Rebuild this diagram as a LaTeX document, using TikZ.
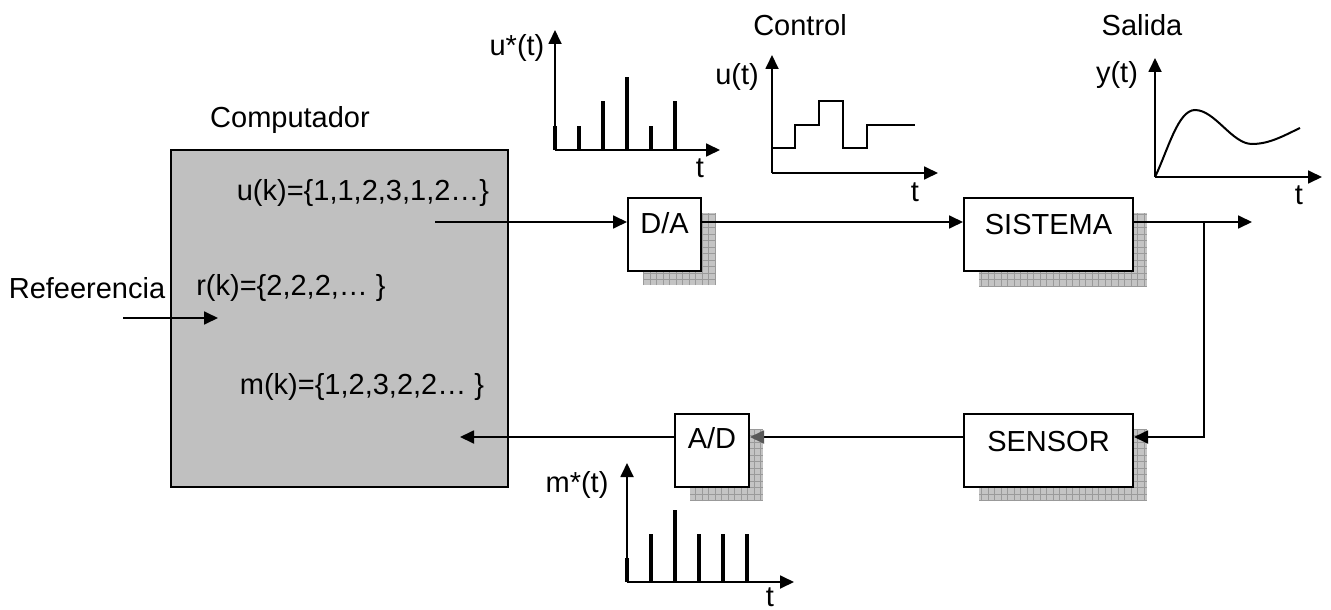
\documentclass[tikz,border=0pt]{standalone}
\usepackage{fontspec}
\setmainfont{Liberation Sans}
\usetikzlibrary{arrows.meta}
\definecolor{compgray}{HTML}{C0C0C0}
\definecolor{shdfill}{HTML}{C4C4C4}
\definecolor{shdline}{HTML}{9A9A9A}
\newcommand{\shd}[4]{%
  \begin{scope}
    \clip (#1,#2) rectangle (#3,#4);
    \fill[shdfill] (#1,#2) rectangle (#3,#4);
    \draw[shdline, line width=0.6pt] (#1,#2) grid[step=6.5pt] (#3,#4);
  \end{scope}}
\begin{document}
\begin{tikzpicture}[x=1pt,y=-1pt, line width=1.8pt,
  tip/.style={-{Triangle[length=14pt,width=13pt]}},
  lbl/.style={font=\fontsize{29}{34}\selectfont, inner sep=0pt},
  blk/.style={draw, fill=white, line width=2pt, inner sep=0pt, anchor=north west},
  stem/.style={line width=3.8pt},
  curve/.style={line width=2pt}]
\useasboundingbox (0,0) rectangle (1331,610);

% computer
\node[draw, fill=compgray, line width=2pt, inner sep=0pt, anchor=north west,
      minimum width=337pt, minimum height=337pt] (comp) at (170,149) {};
\node[lbl] (tcomp) at (290,120) {Computador};
\node[lbl] (tuk) at (363,193) {u(k)=\{1,1,2,3,1,2…\}};
\node[lbl] (trk) at (291,288) {r(k)=\{2,2,2,… \}};
\node[lbl] (tmk) at (362,387) {m(k)=\{1,2,3,2,2… \}};
\node[lbl] (tref) at (87,288) {Refeerencia};

% shadows
\shd{643}{213}{716}{285}
\shd{979}{213}{1147}{286}
\shd{690}{429}{763}{501}
\shd{979}{429}{1147}{501}

% blocks
\node[blk, minimum width=73pt, minimum height=73pt] (da) at (627,197) {};
\node[blk, minimum width=169pt, minimum height=73pt] (sis) at (963,197) {};
\node[blk, minimum width=74pt, minimum height=73pt] (ad) at (674,413) {};
\node[blk, minimum width=169pt, minimum height=73pt] (sen) at (963,413) {};

% connectors
\coordinate (uk) at (435,222);
\coordinate (yout) at (1252,222);
\coordinate (br) at (1204,222);
\coordinate (fb) at (1204,437);
\coordinate (mk) at (460,437);
\coordinate (rin0) at (123,318);
\coordinate (rin) at (218,318);
\draw[tip] (uk) -- (uk -| da.west);
\draw[tip] (da.east |- uk) -- (sis.west |- uk);
\draw[tip] (sis.east |- uk) -- (yout);
\draw[tip] (br) -- (fb) -- (fb -| sen.east);
\draw[-{Triangle[length=14pt,width=13pt,color=black!65]}] (sen.west |- fb) -- (ad.east |- fb);
\draw[tip] (ad.west |- fb) -- (mk);
\draw[tip] (rin0) -- (rin);

% block labels
\node[lbl] (lda) at (da.center |- 0,223) {D/A};
\node[lbl] (lsis) at (sis.center |- 0,225) {SISTEMA};
\node[lbl] (lad) at (ad.center |- 0,438) {A/D};
\node[lbl] (lsen) at (sen.center |- 0,442) {SENSOR};

% u*(t) plot
\draw[tip] (555,150) -- (555,30);
\draw[tip] (555,150) -- (720,150);
\foreach \x/\h in {555/1,579/1,603/2,627/3,651/1,675/2}
  \draw[stem] (\x,150) -- (\x,150-24.3*\h);
\node[lbl] (tus) at (517,48) {u*(t)};
\node[lbl] (tus2) at (700,168) {t};

% u(t) plot
\node[lbl] (tctrl) at (800,25) {Control};
\draw[tip] (772,173) -- (772,55);
\draw[tip] (772,173) -- (938,173);
\draw[curve] (772,148) -- (795,148) -- (795,125) -- (819,125) -- (819,101) -- (843,101)
  -- (843,148) -- (867,148) -- (867,125) -- (915,125);
\node[lbl] (tu) at (737,77) {u(t)};
\node[lbl] (tu2) at (915,192) {t};

% y(t) plot
\node[lbl] (tsal) at (1142,25) {Salida};
\draw[tip] (1155,177) -- (1155,58);
\draw[tip] (1155,177) -- (1322,177);
\draw[curve] (1155,177) .. controls (1168,150) and (1178,110) .. (1195,110)
  .. controls (1215,110) and (1232,144) .. (1252,144)
  .. controls (1270,144) and (1285,135) .. (1300,128);
\node[lbl] (ty) at (1117,75) {y(t)};
\node[lbl] (ty2) at (1299,195) {t};

% m*(t) plot
\draw[tip] (627,582) -- (627,463);
\draw[tip] (627,582) -- (794,582);
\foreach \x/\h in {627/1,651/2,675/3,699/2,723/2,747/2}
  \draw[stem] (\x,582) -- (\x,582-24*\h);
\node[lbl] (tm) at (577,485) {m*(t)};
\node[lbl] (tm2) at (770,597) {t};
\end{tikzpicture}
\end{document}
